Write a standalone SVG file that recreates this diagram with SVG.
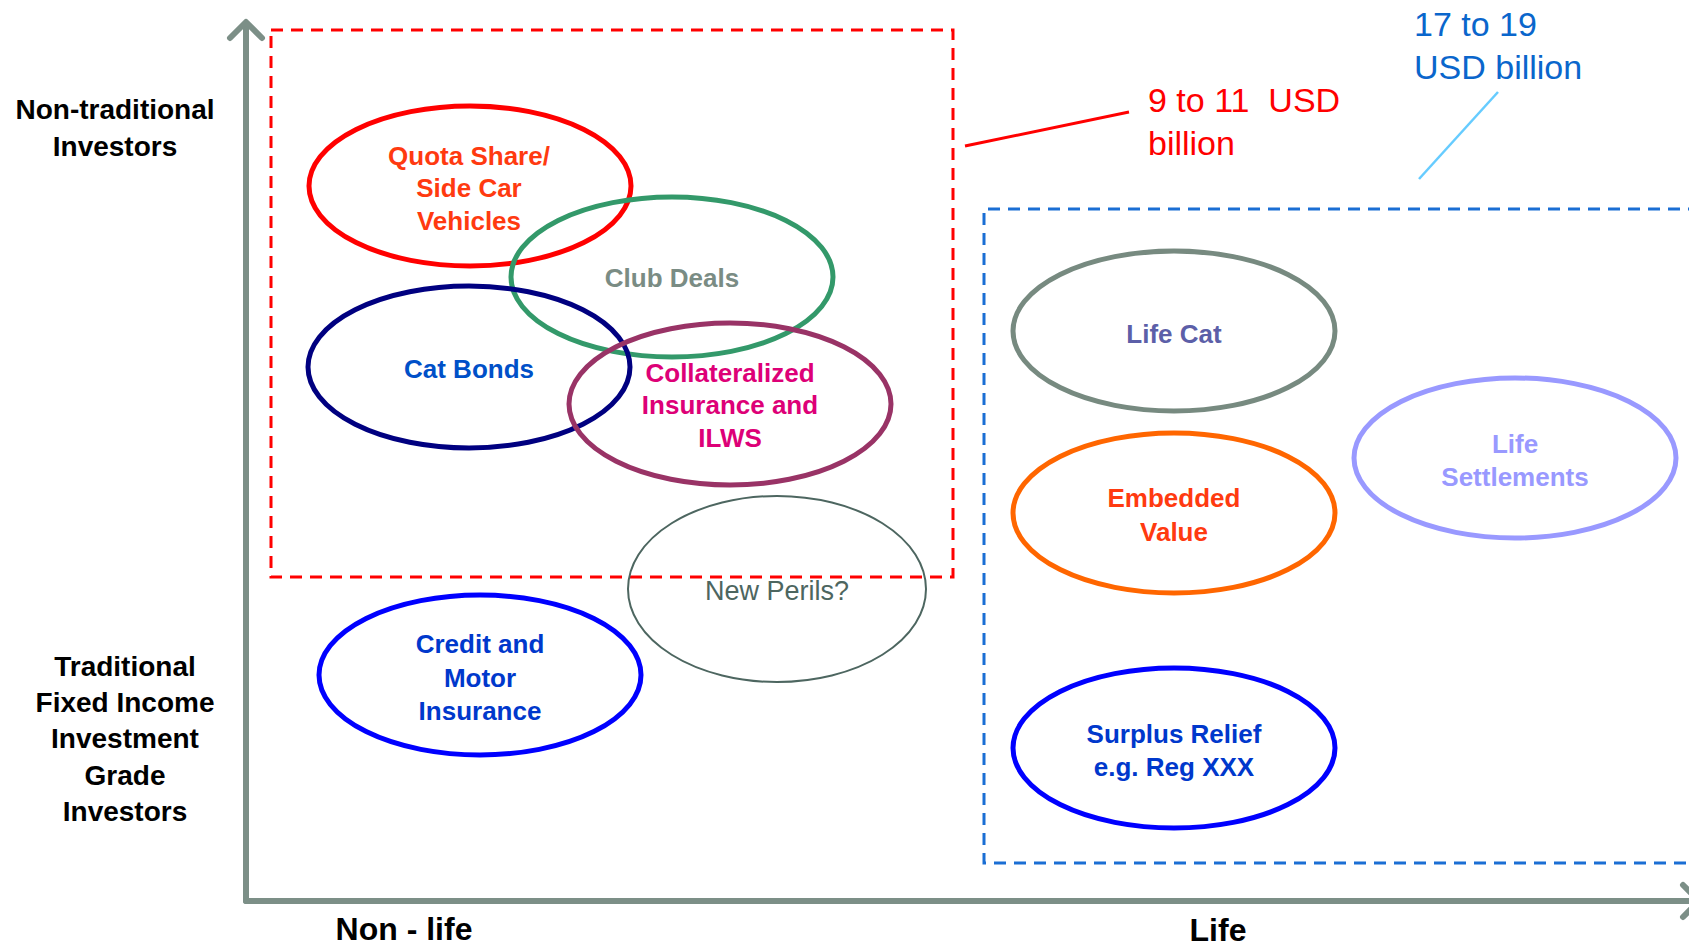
<svg xmlns="http://www.w3.org/2000/svg" width="1689" height="947" viewBox="0 0 1689 947">
  <style>
    .axis { stroke: #7c8f87; stroke-width: 6; fill: none; stroke-linecap: round; stroke-linejoin: round; }
    .zone-red { fill: none; stroke: #ff0000; stroke-width: 3; stroke-dasharray: 12 8; }
    .zone-blue { fill: none; stroke: #1a6ed4; stroke-width: 3; stroke-dasharray: 12 8; }
    .ell { fill: none; stroke-width: 5; }
    .lbl { font-family: "Liberation Sans", Arial, sans-serif; font-weight: bold; font-size: 26px; text-anchor: middle; }
    .side { font-family: "Liberation Sans", Arial, sans-serif; font-weight: bold; font-size: 28px; text-anchor: middle; fill: #000000; }
    .cat { font-family: "Liberation Sans", Arial, sans-serif; font-weight: bold; font-size: 32px; text-anchor: middle; fill: #000000; }
    .note { font-family: "Liberation Sans", Arial, sans-serif; font-size: 34px; }
  </style>

  <rect width="1689" height="947" fill="#ffffff"/>

  <!-- axes -->
  <g id="axes">
    <line class="axis" x1="246" y1="24" x2="246" y2="901"/>
    <polyline class="axis" points="230,38 246,22 262,38"/>
    <line class="axis" x1="246" y1="901" x2="1697" y2="901"/>
    <polyline class="axis" points="1683,885 1699,901 1683,917"/>
  </g>

  <!-- market size zones -->
  <g id="zone-nonlife">
    <rect class="zone-red" x="271" y="30" width="682" height="547"/>
  </g>
  <g id="zone-life">
    <path class="zone-blue" d="M1700,209 H984 V863 H1700"/>
  </g>

  <!-- leader lines to the volume notes -->
  <g id="connectors">
    <line x1="965" y1="146" x2="1129" y2="112" stroke="#ff0000" stroke-width="3"/>
    <line x1="1498" y1="92" x2="1419" y2="179" stroke="#66ccff" stroke-width="2.5"/>
  </g>

  <g id="note-nonlife">
    <text class="note" fill="#ff0000" x="1148" y="112">9 to 11&#160; USD</text>
    <text class="note" fill="#ff0000" x="1148" y="155">billion</text>
  </g>
  <g id="note-life">
    <text class="note" fill="#0a66cc" x="1414" y="36">17 to 19</text>
    <text class="note" fill="#0a66cc" x="1414" y="79">USD billion</text>
  </g>

  <!-- non-life instruments -->
  <g id="quota-share">
    <ellipse class="ell" cx="470" cy="186" rx="161" ry="80" stroke="#ff0000"/>
    <text class="lbl" fill="#ff3a10" x="469" y="165">Quota Share/</text>
    <text class="lbl" fill="#ff3a10" x="469" y="197">Side Car</text>
    <text class="lbl" fill="#ff3a10" x="469" y="230">Vehicles</text>
  </g>
  <g id="club-deals">
    <ellipse class="ell" cx="672" cy="277" rx="161" ry="80" stroke="#33996a"/>
    <text class="lbl" fill="#7a8c84" x="672" y="287">Club Deals</text>
  </g>
  <g id="cat-bonds">
    <ellipse class="ell" cx="469" cy="367" rx="161" ry="81" stroke="#000080"/>
    <text class="lbl" fill="#0050c8" x="469" y="378">Cat Bonds</text>
  </g>
  <g id="collateralized">
    <ellipse class="ell" cx="730" cy="404" rx="161" ry="81" stroke="#993366"/>
    <text class="lbl" fill="#dd0077" x="730" y="382">Collateralized</text>
    <text class="lbl" fill="#dd0077" x="730" y="414">Insurance and</text>
    <text class="lbl" fill="#dd0077" x="730" y="447">ILWS</text>
  </g>
  <g id="new-perils">
    <ellipse cx="777" cy="589" rx="149" ry="93" fill="none" stroke="#4d6660" stroke-width="2"/>
    <text x="777" y="600" fill="#4d6660" font-family="Liberation Sans, Arial, sans-serif" font-size="27" text-anchor="middle">New Perils?</text>
  </g>
  <g id="credit-motor">
    <ellipse class="ell" cx="480" cy="675" rx="161" ry="80" stroke="#0000ff"/>
    <text class="lbl" fill="#0038cc" x="480" y="653">Credit and</text>
    <text class="lbl" fill="#0038cc" x="480" y="687">Motor</text>
    <text class="lbl" fill="#0038cc" x="480" y="720">Insurance</text>
  </g>

  <!-- life instruments -->
  <g id="life-cat">
    <ellipse class="ell" cx="1174" cy="331" rx="161" ry="80" stroke="#778a80"/>
    <text class="lbl" fill="#5c5fa8" x="1174" y="343">Life Cat</text>
  </g>
  <g id="life-settlements">
    <ellipse class="ell" cx="1515" cy="458" rx="161" ry="80" stroke="#9999ff"/>
    <text class="lbl" fill="#9999ff" x="1515" y="453">Life</text>
    <text class="lbl" fill="#9999ff" x="1515" y="486">Settlements</text>
  </g>
  <g id="embedded-value">
    <ellipse class="ell" cx="1174" cy="513" rx="161" ry="80" stroke="#ff6600"/>
    <text class="lbl" fill="#ff3a10" x="1174" y="507">Embedded</text>
    <text class="lbl" fill="#ff3a10" x="1174" y="541">Value</text>
  </g>
  <g id="surplus-relief">
    <ellipse class="ell" cx="1174" cy="748" rx="161" ry="80" stroke="#0000ff"/>
    <text class="lbl" fill="#0038cc" x="1174" y="743">Surplus Relief</text>
    <text class="lbl" fill="#0038cc" x="1174" y="776">e.g. Reg XXX</text>
  </g>

  <!-- axis captions -->
  <g id="investors-nontraditional">
    <text class="side" x="115" y="119">Non-traditional</text>
    <text class="side" x="115" y="156">Investors</text>
  </g>
  <g id="investors-traditional">
    <text class="side" x="125" y="676">Traditional</text>
    <text class="side" x="125" y="712">Fixed Income</text>
    <text class="side" x="125" y="748">Investment</text>
    <text class="side" x="125" y="785">Grade</text>
    <text class="side" x="125" y="821">Investors</text>
  </g>
  <g id="category-nonlife">
    <text class="cat" x="404" y="940">Non - life</text>
  </g>
  <g id="category-life">
    <text class="cat" x="1218" y="941">Life</text>
  </g>
</svg>
